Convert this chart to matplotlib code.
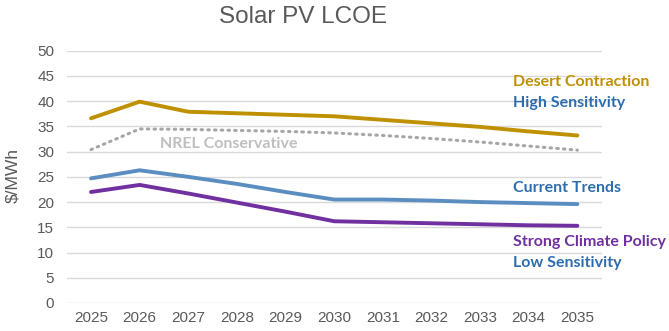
import matplotlib.pyplot as plt
import numpy as np

years = [2025, 2026, 2027, 2028, 2029, 2030, 2031, 2032, 2033, 2034, 2035]

desert_contraction = [36.6, 39.9, 37.9, 37.6, 37.3, 37.0, 36.3, 35.6, 34.9, 34.0, 33.2]
nrel_conservative = [30.4, 34.5, 34.4, 34.2, 34.0, 33.7, 33.2, 32.6, 31.9, 31.1, 30.3]
current_trends = [24.7, 26.3, 25.0, 23.6, 22.0, 20.5, 20.5, 20.3, 20.0, 19.8, 19.6]
strong_climate = [22.0, 23.4, 21.7, 19.9, 18.1, 16.2, 16.0, 15.8, 15.6, 15.4, 15.3]

gold = '#BF9000'
blue_line = '#5B8EC0'
blue_text = '#2E6DAD'
purple = '#7030A0'
grey = '#A6A6A6'

fig = plt.figure(figsize=(6.69, 3.31), dpi=100)
ax = fig.add_axes([66.7 / 669, 28 / 331, 535 / 669, 252.3 / 331])

x = np.arange(len(years))
ax.plot(x, desert_contraction, color=gold, lw=2.8, solid_capstyle='round')
ax.plot(x, nrel_conservative, color=grey, lw=2.2, linestyle=(0, (0.5, 1.7)), dash_capstyle='round')
ax.plot(x, current_trends, color=blue_line, lw=2.8, solid_capstyle='round')
ax.plot(x, strong_climate, color=purple, lw=2.8, solid_capstyle='round')

ax.set_xlim(-0.5, len(years) - 0.5)
ax.set_ylim(0, 50)
ax.set_yticks(range(0, 51, 5))
ax.set_xticks(x)
ax.set_xticklabels([str(y) for y in years])
ax.grid(axis='y', color='#D9D9D9', lw=1)
ax.set_axisbelow(True)
for s in ax.spines.values():
    s.set_visible(False)
ax.tick_params(length=0, labelsize=11, labelcolor='#595959')
ax.tick_params(axis='y', pad=9)
ax.tick_params(axis='x', pad=6)
for lab in ax.get_xticklabels() + ax.get_yticklabels():
    lab.set_family('Liberation Sans')

ax.set_ylabel('$/MWh', fontsize=12.5, color='#595959', family='Liberation Sans')
ax.yaxis.set_label_coords(-0.087, 0.507)
fig.text(303 / 669, 1 - 17 / 331, 'Solar PV LCOE', ha='center', va='center', fontsize=17.5,
         color='#595959', family='Liberation Sans')

lab_font = dict(family='Lato', fontweight='bold', fontsize=11.5)
fig.text(513 / 669, 1 - 82 / 331, 'Desert Contraction', color=gold, va='center', **lab_font)
fig.text(513 / 669, 1 - 103 / 331, 'High Sensitivity', color=blue_text, va='center', **lab_font)
fig.text(513 / 669, 1 - 188 / 331, 'Current Trends', color=blue_text, va='center', **lab_font)
fig.text(513 / 669, 1 - 242 / 331, 'Strong Climate Policy', color=purple, va='center', **lab_font)
fig.text(513 / 669, 1 - 263 / 331, 'Low Sensitivity', color=blue_text, va='center', **lab_font)
fig.text(160 / 669, 1 - 144 / 331, 'NREL Conservative', color='#BFBFBF', va='center', **lab_font)

fig.savefig('out.png', dpi=100)
